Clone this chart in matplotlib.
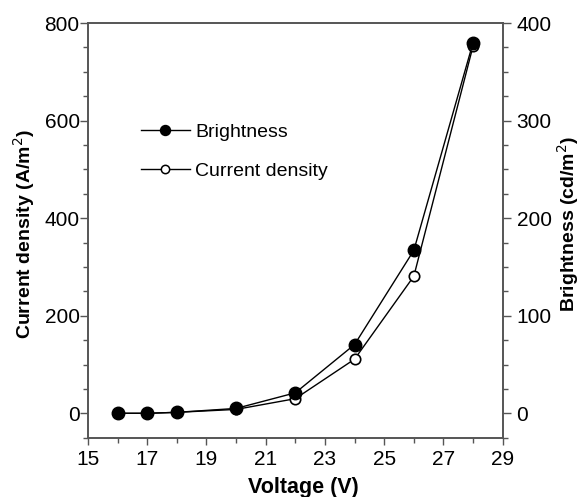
import matplotlib
matplotlib.use("Agg")
import matplotlib.pyplot as plt
from matplotlib.ticker import MultipleLocator
from matplotlib.lines import Line2D

voltage = [16, 17, 18, 20, 22, 24, 26, 28]
current_density = [0, 0, 2, 8, 30, 111, 281, 753]
brightness = [0, 0, 1, 5, 21, 70.5, 167, 380]

plt.rcParams['font.family'] = ['Liberation Sans', 'DejaVu Sans']

W, H = 581, 497
L, R, T, B = 88, 502.7, 23, 437.7
AW, AH = R - L, B - T
fig = plt.figure(figsize=(W / 100, H / 100), dpi=100)
ax = fig.add_axes([L / W, 1 - B / H, AW / W, AH / H])
ax2 = ax.twinx()

spine_col = '#555555'
for a in (ax, ax2):
    for s in a.spines.values():
        s.set_color(spine_col)
        s.set_linewidth(1.2)

ax.plot(voltage, current_density, '-o', color='black', lw=1.0, ms=7.5,
        mfc='white', mec='black', mew=1.2, zorder=3)
ax2.plot(voltage, brightness, '-o', color='black', lw=1.0, ms=9,
         mfc='black', mec='black', zorder=4)

ax.set_xlim(15, 29)
ax.set_ylim(-50, 800)
ax2.set_ylim(-25, 400)

ax.xaxis.set_major_locator(MultipleLocator(2, offset=1))
ax.xaxis.set_minor_locator(MultipleLocator(1))
ax.yaxis.set_major_locator(MultipleLocator(200))
ax.yaxis.set_minor_locator(MultipleLocator(50))
ax2.yaxis.set_major_locator(MultipleLocator(100))
ax2.yaxis.set_minor_locator(MultipleLocator(25))

fs = 15
ax.tick_params(axis='x', which='major', direction='out', length=5, width=1,
               color=spine_col, labelsize=fs, pad=3.5)
ax.tick_params(axis='y', which='major', direction='out', length=6, width=1,
               color=spine_col, labelsize=fs, pad=0)
ax.tick_params(axis='both', which='minor', direction='out', length=3.5, width=1,
               color=spine_col)
ax.tick_params(axis='x', which='both', top=False)
ax2.tick_params(axis='y', which='major', direction='out', length=5.5, width=1,
                color=spine_col, labelsize=fs, pad=4.5)
ax2.tick_params(axis='y', which='minor', direction='out', length=3.5, width=1,
                color=spine_col)

ax.set_xlabel('Voltage (V)', fontsize=15.5, fontweight='bold')
ax.xaxis.set_label_coords((303 - L) / AW, (B - 477) / AH)
ax.set_ylabel('Current density (A/m$^2$)', fontsize=14, fontweight='bold')
ax.yaxis.set_label_coords((37 - L) / AW, (B - 234.5) / AH)
ax2.set_ylabel('Brightness (cd/m$^2$)', fontsize=14, fontweight='bold')
ax2.yaxis.set_label_coords((555 - L) / AW, (B - 223.5) / AH)

handles = [
    Line2D([], [], color='black', lw=1.0, marker='o', ms=7.2, mfc='black', mec='black'),
    Line2D([], [], color='black', lw=1.0, marker='o', ms=6, mfc='white', mec='black', mew=1.1),
]
ax.legend(handles, ['Brightness', 'Current density'], loc='upper left',
          bbox_to_anchor=((141 - L) / AW, (B - 123) / AH), frameon=False,
          fontsize=14, handlelength=2.5, handletextpad=0.3, labelspacing=1.1,
          borderaxespad=0, borderpad=0)

fig.savefig('out.png', dpi=100)
